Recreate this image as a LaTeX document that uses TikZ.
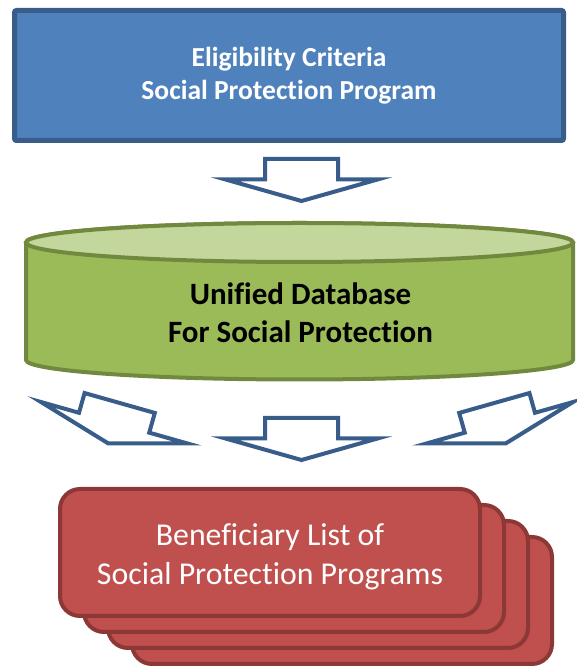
\documentclass[tikz,border=0pt]{standalone}
\usepackage{fontspec}
\setmainfont{Carlito}[Ligatures=NoCommon]
\definecolor{critblue}{HTML}{4F81BD}
\definecolor{critline}{HTML}{385D8A}
\definecolor{dbgreen}{HTML}{9BBB59}
\definecolor{dbtop}{HTML}{C3D69B}
\definecolor{dbline}{HTML}{71893F}
\definecolor{listred}{HTML}{C0504D}
\definecolor{listline}{HTML}{8C3836}
\tikzset{
  boxnode/.style = {align=center, inner sep=0pt, text centered},
  crit_n/.style = {boxnode, rectangle, rounded corners=2pt, draw=critline,
    fill=critblue, line width=5pt, text=white,
    font=\fontsize{27.5}{33.5}\selectfont\bfseries,
    minimum width=549pt, minimum height=130pt},
  db_n/.style = {boxnode, text=black,
    font=\fontsize{31}{38}\selectfont\bfseries},
  list_n/.style = {boxnode, rectangle, rounded corners=20pt, draw=listline,
    fill=listred, line width=4pt, text=white,
    font=\fontsize{31.8}{38.5}\selectfont,
    minimum width=420pt, minimum height=127pt},
  down_arrow/.pic = {
    \draw[line width=4pt, draw=critline, fill=white, miter limit=12]
      (-36.5,0) -- (36.5,0) -- (36.5,-20.5) -- (76,-20.5) -- (0,-42)
      -- (-76,-20.5) -- (-36.5,-20.5) -- cycle;
  }
}

\begin{document}
\begin{tikzpicture}[x=1pt, y=1pt]
\useasboundingbox (0,0) rectangle (577,666);

\node [crit_n] (crit) at (289,590.5) {Eligibility Criteria\\Social Protection Program};

\pic (arr_top) at (301.5,507) {down_arrow};

% database cylinder
\draw[line width=4pt, draw=dbline, fill=dbgreen]
  (26,423.5) -- (26,306) arc (180:360:273.5 and 19.5)
  -- (573,423.5) arc (0:180:273.5 and 19.5) -- cycle;
\draw[line width=4pt, draw=dbline, fill=dbtop] (299.5,423.5) ellipse (273.5 and 19.5);
\node [db_n] (db) at (300.5,353.5) {Unified Database\\For Social Protection};

\pic (arr_left) [rotate=-15.8] at (119.7,263) {down_arrow};
\pic (arr_mid) at (301.5,248) {down_arrow};
\pic (arr_right) [rotate=15.8] at (494.3,263) {down_arrow};

% stacked lists
\foreach \k in {3,2,1}
  \node [list_n] (card\k) at (270+24*\k,113.5-16*\k) {};
\node [list_n] (list) at (270,113.5) {};
\node [boxnode, text=white, font=\fontsize{31.8}{38.5}\selectfont]
  (list_txt) at (270,109) {Beneficiary List of\\Social Protection Programs};
\end{tikzpicture}
\end{document}
